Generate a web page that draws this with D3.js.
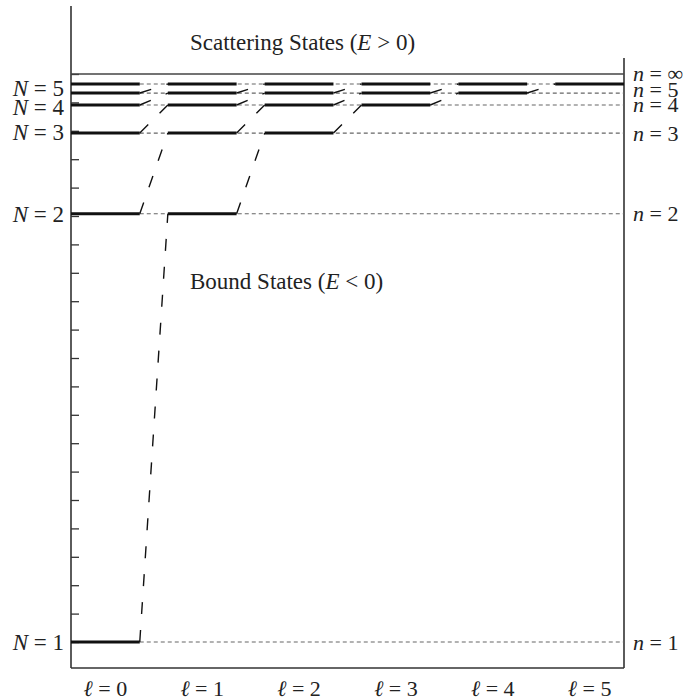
<!DOCTYPE html>
<html>
<head>
<meta charset="utf-8">
<script src="https://cdn.jsdelivr.net/npm/d3@7"></script>
<style>
  body { margin: 0; background: #fff; }
  text { font-family: "Liberation Serif", "DejaVu Serif", serif; fill: #222; }
</style>
</head>
<body>
<div id="target"></div>
<script>
let width = 686,
  height = 700;

// angular momentum columns
let ells = [0, 1, 2, 3, 4, 5];
// energy levels (E / |E1|), lowest first
let levelN = [1, 2, 3, 4, 5, 6];
let levelE = [-1, -0.246, -0.104, -0.0546, -0.0335, -0.0176];
// labels on the left (N) and on the right (n)
let leftLabels = ["N = 1", "N = 2", "N = 3", "N = 4", "N = 5"];
let leftLabelE = [-1, -0.246, -0.102, -0.058, -0.024];
let rightLabels = ["n = 1", "n = 2", "n = 3", "n = 4", "n = 5", "n = \u221e"];
let rightLabelE = [-1, -0.246, -0.104, -0.053, -0.027, 0.002];

let left = 71, right = 624, top0 = 6, bottom = 668;

let x = d3.scaleBand()
  .domain(ells)
  .range([left, right])
  .paddingInner(0.29)
  .paddingOuter(0);

let y = d3.scaleLinear()
  .domain([-1, 0])
  .range([642, 74]);

let bw = x.bandwidth();

let svg = d3.select("#target").append("svg")
  .attr("width", width)
  .attr("height", height);

// frame
svg.append("line")
  .attr("x1", left).attr("x2", left)
  .attr("y1", top0).attr("y2", bottom)
  .attr("stroke", "#333").attr("stroke-width", 1.6);
svg.append("line")
  .attr("x1", right).attr("x2", right)
  .attr("y1", 58).attr("y2", bottom)
  .attr("stroke", "#333").attr("stroke-width", 1.6);
svg.append("line")
  .attr("x1", left).attr("x2", right)
  .attr("y1", bottom).attr("y2", bottom)
  .attr("stroke", "#333").attr("stroke-width", 1.6);

// left ticks, every 0.05
svg.append("g")
  .attr("transform", "translate(" + left + ",0)")
  .call(d3.axisRight(y).ticks(20).tickSize(8).tickFormat(""))
  .call(g => g.select(".domain").remove())
  .call(g => g.selectAll(".tick line").attr("stroke", "#333").attr("stroke-width", 1.3));

// E = 0 line
svg.append("line")
  .attr("x1", left).attr("x2", right)
  .attr("y1", y(0)).attr("y2", y(0))
  .attr("stroke", "#444").attr("stroke-width", 1.6);

// dotted continuations of every level
svg.selectAll(".dots")
  .data(levelE)
  .enter()
  .append("line")
  .attr("class", "dots")
  .attr("x1", x(0) + bw)
  .attr("x2", right)
  .attr("y1", (d) => y(d))
  .attr("y2", (d) => y(d))
  .attr("stroke", "#666")
  .attr("stroke-width", 1.2)
  .attr("stroke-dasharray", "4,3");

// level segments: level i exists for l <= i
let segs = [];
levelE.forEach((e, i) => {
  ells.forEach((l) => {
    if (l <= i) segs.push({ l: l, e: e, i: i });
  });
});

// connectors from (l, n) to (l+1, n+1)
let links = segs.filter((d) => d.l < 5 && d.i < levelE.length - 1);

svg.selectAll(".link")
  .data(links)
  .enter()
  .append("line")
  .attr("class", "link")
  .attr("x1", (d) => x(d.l) + bw)
  .attr("y1", (d) => y(d.e))
  .attr("x2", (d) => x(d.l + 1))
  .attr("y2", (d) => y(levelE[d.i + 1]))
  .attr("stroke", "#111")
  .attr("stroke-width", 1.4)
  .attr("stroke-dasharray", "12,16");

svg.selectAll(".seg")
  .data(segs)
  .enter()
  .append("line")
  .attr("class", "seg")
  .attr("x1", (d) => x(d.l))
  .attr("x2", (d) => x(d.l) + bw)
  .attr("y1", (d) => y(d.e))
  .attr("y2", (d) => y(d.e))
  .attr("stroke", "#111")
  .attr("stroke-width", 3);

// labels
function eqLabel(sel, s) {
  let parts = s.split(" = ");
  sel.append("tspan").style("font-style", "italic").text(parts[0]);
  sel.append("tspan").text(" = " + parts[1]);
}

leftLabels.forEach((s, i) => {
  let t = svg.append("text")
    .attr("x", left - 7)
    .attr("y", y(leftLabelE[i]))
    .attr("dy", "0.35em")
    .attr("text-anchor", "end")
    .style("font-size", "23px");
  eqLabel(t, s);
});

rightLabels.forEach((s, i) => {
  let t = svg.append("text")
    .attr("x", right + 9)
    .attr("y", y(rightLabelE[i]))
    .attr("dy", "0.35em")
    .style("font-size", "22px");
  eqLabel(t, s);
});

ells.forEach((l) => {
  let t = svg.append("text")
    .attr("x", x(l) + bw / 2)
    .attr("y", 696)
    .attr("text-anchor", "middle")
    .style("font-size", "22px");
  t.append("tspan").style("font-style", "italic").text("\u2113");
  t.append("tspan").text(" = " + l);
});

function stateLabel(word, rel, yy) {
  let t = svg.append("text")
    .attr("x", 190)
    .attr("y", yy)
    .style("font-size", "23px");
  t.append("tspan").text(word + " (");
  t.append("tspan").style("font-style", "italic").text("E");
  t.append("tspan").text(" " + rel + " 0)");
}
stateLabel("Scattering States", ">", 50);
stateLabel("Bound States", "<", 289);
</script>
</body>
</html>
